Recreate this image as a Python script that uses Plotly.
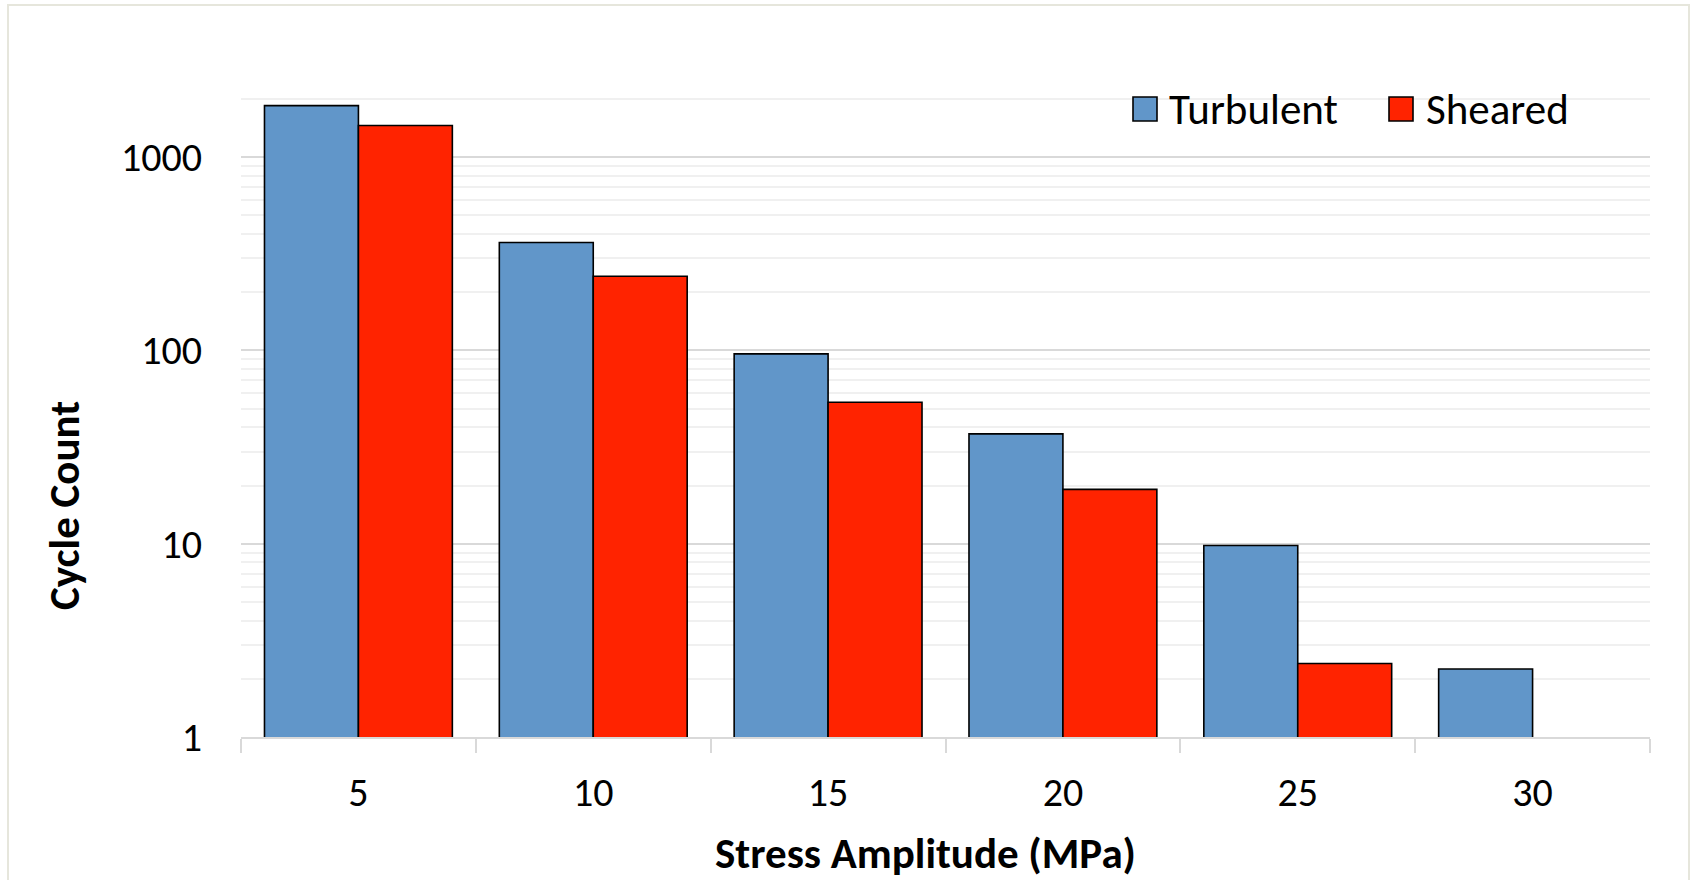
import math
import plotly.graph_objects as go

# ---- data ----
categories = ["5", "10", "15", "20", "25", "30"]
series_names = ["Turbulent", "Sheared"]
series_colors = ["#6196c9", "#ff2300"]
turbulent = [1850, 362, 96, 37, 9.8, 2.25]
sheared = [1460, 242, 54, 19.1, 2.4, None]
y_tick_vals = [1, 10, 100, 1000]
y_tick_text = ["1", "10", "100", "1000"]
y_minor_vals = [m * 10 ** e for e in range(0, 4) for m in range(2, 10) if m * 10 ** e <= 3000]
x_title = "Stress Amplitude (MPa)"
y_title = "Cycle Count"

W, H = 1700, 880
ML, MR, MT, MB = 241, 50, 65, 143
FONT = "Carlito, Lato, sans-serif"

pw = W - ML - MR
ph = H - MT - MB


def px_x(p):
    return (p - ML) / pw


def px_y(p):
    return (H - MB - p) / ph


fig = go.Figure()
for name, color, vals in zip(series_names, series_colors, [turbulent, sheared]):
    fig.add_trace(go.Bar(
        name=name, x=categories, y=vals, showlegend=False,
        marker=dict(color=color, line=dict(color="#000000", width=1.6)),
    ))

# legend drawn as boxes + text (Excel-size swatches)
legend_box_x = [1133, 1389]
legend_text_x = [1167, 1424]
legend_cy = 109
box = 24
shapes = [dict(
    type="rect", xref="paper", yref="paper",
    x0=px_x(8), x1=px_x(1689), y0=px_y(900), y1=px_y(5),
    line=dict(color="#e6e6dc", width=2), fillcolor="rgba(0,0,0,0)", layer="below",
)]
annotations = []
for name, color, bx, tx in zip(series_names, series_colors, legend_box_x, legend_text_x):
    shapes.append(dict(
        type="rect", xref="paper", yref="paper",
        x0=px_x(bx), x1=px_x(bx + box), y0=px_y(legend_cy + box / 2), y1=px_y(legend_cy - box / 2),
        line=dict(color="#000000", width=1.6), fillcolor=color, layer="above",
    ))
    annotations.append(dict(
        text=name, xref="paper", yref="paper", x=px_x(tx), y=px_y(legend_cy),
        xanchor="left", yanchor="middle", showarrow=False,
        font=dict(family=FONT, size=43, color="#000000"),
    ))

# axis titles (placed as in the reference, slightly off-centre)
annotations.append(dict(
    text="<b>%s</b>" % x_title, xref="paper", yref="paper", x=px_x(925), y=px_y(853),
    xanchor="center", yanchor="middle", showarrow=False,
    font=dict(family=FONT, size=43, color="#000000"),
))
annotations.append(dict(
    text="<b>%s</b>" % y_title, xref="paper", yref="paper", x=px_x(64), y=px_y(506),
    xanchor="center", yanchor="middle", showarrow=False, textangle=-90,
    font=dict(family=FONT, size=43, color="#000000"),
))

fig.update_layout(
    width=W, height=H,
    margin=dict(l=ML, r=MR, t=MT, b=MB, autoexpand=False),
    paper_bgcolor="white", plot_bgcolor="white",
    barmode="group", bargap=0.2, bargroupgap=0,
    font=dict(family=FONT, size=40, color="#000000"),
    showlegend=False,
    xaxis=dict(
        type="category", tickson="boundaries", ticks="outside", ticklen=14,
        tickcolor="#d9d9d9", tickwidth=2, showline=True, linecolor="#d9d9d9", linewidth=2,
        showgrid=False, tickfont=dict(family=FONT, size=40),
        ticklabelstandoff=19,
    ),
    yaxis=dict(
        type="log", range=[0, math.log10(3000)],
        tickmode="array", tickvals=y_tick_vals, ticktext=y_tick_text,
        showgrid=True, gridcolor="#d9d9d9", gridwidth=2,
        ticks="", showline=False, zeroline=False,
        tickfont=dict(family=FONT, size=40), ticklabelstandoff=38,
        minor=dict(tickmode="array", tickvals=y_minor_vals, showgrid=True,
                   gridcolor="#f0f0f0", gridwidth=2, ticks=""),
    ),
    shapes=shapes,
    annotations=annotations,
)

fig.write_html("out.html")
